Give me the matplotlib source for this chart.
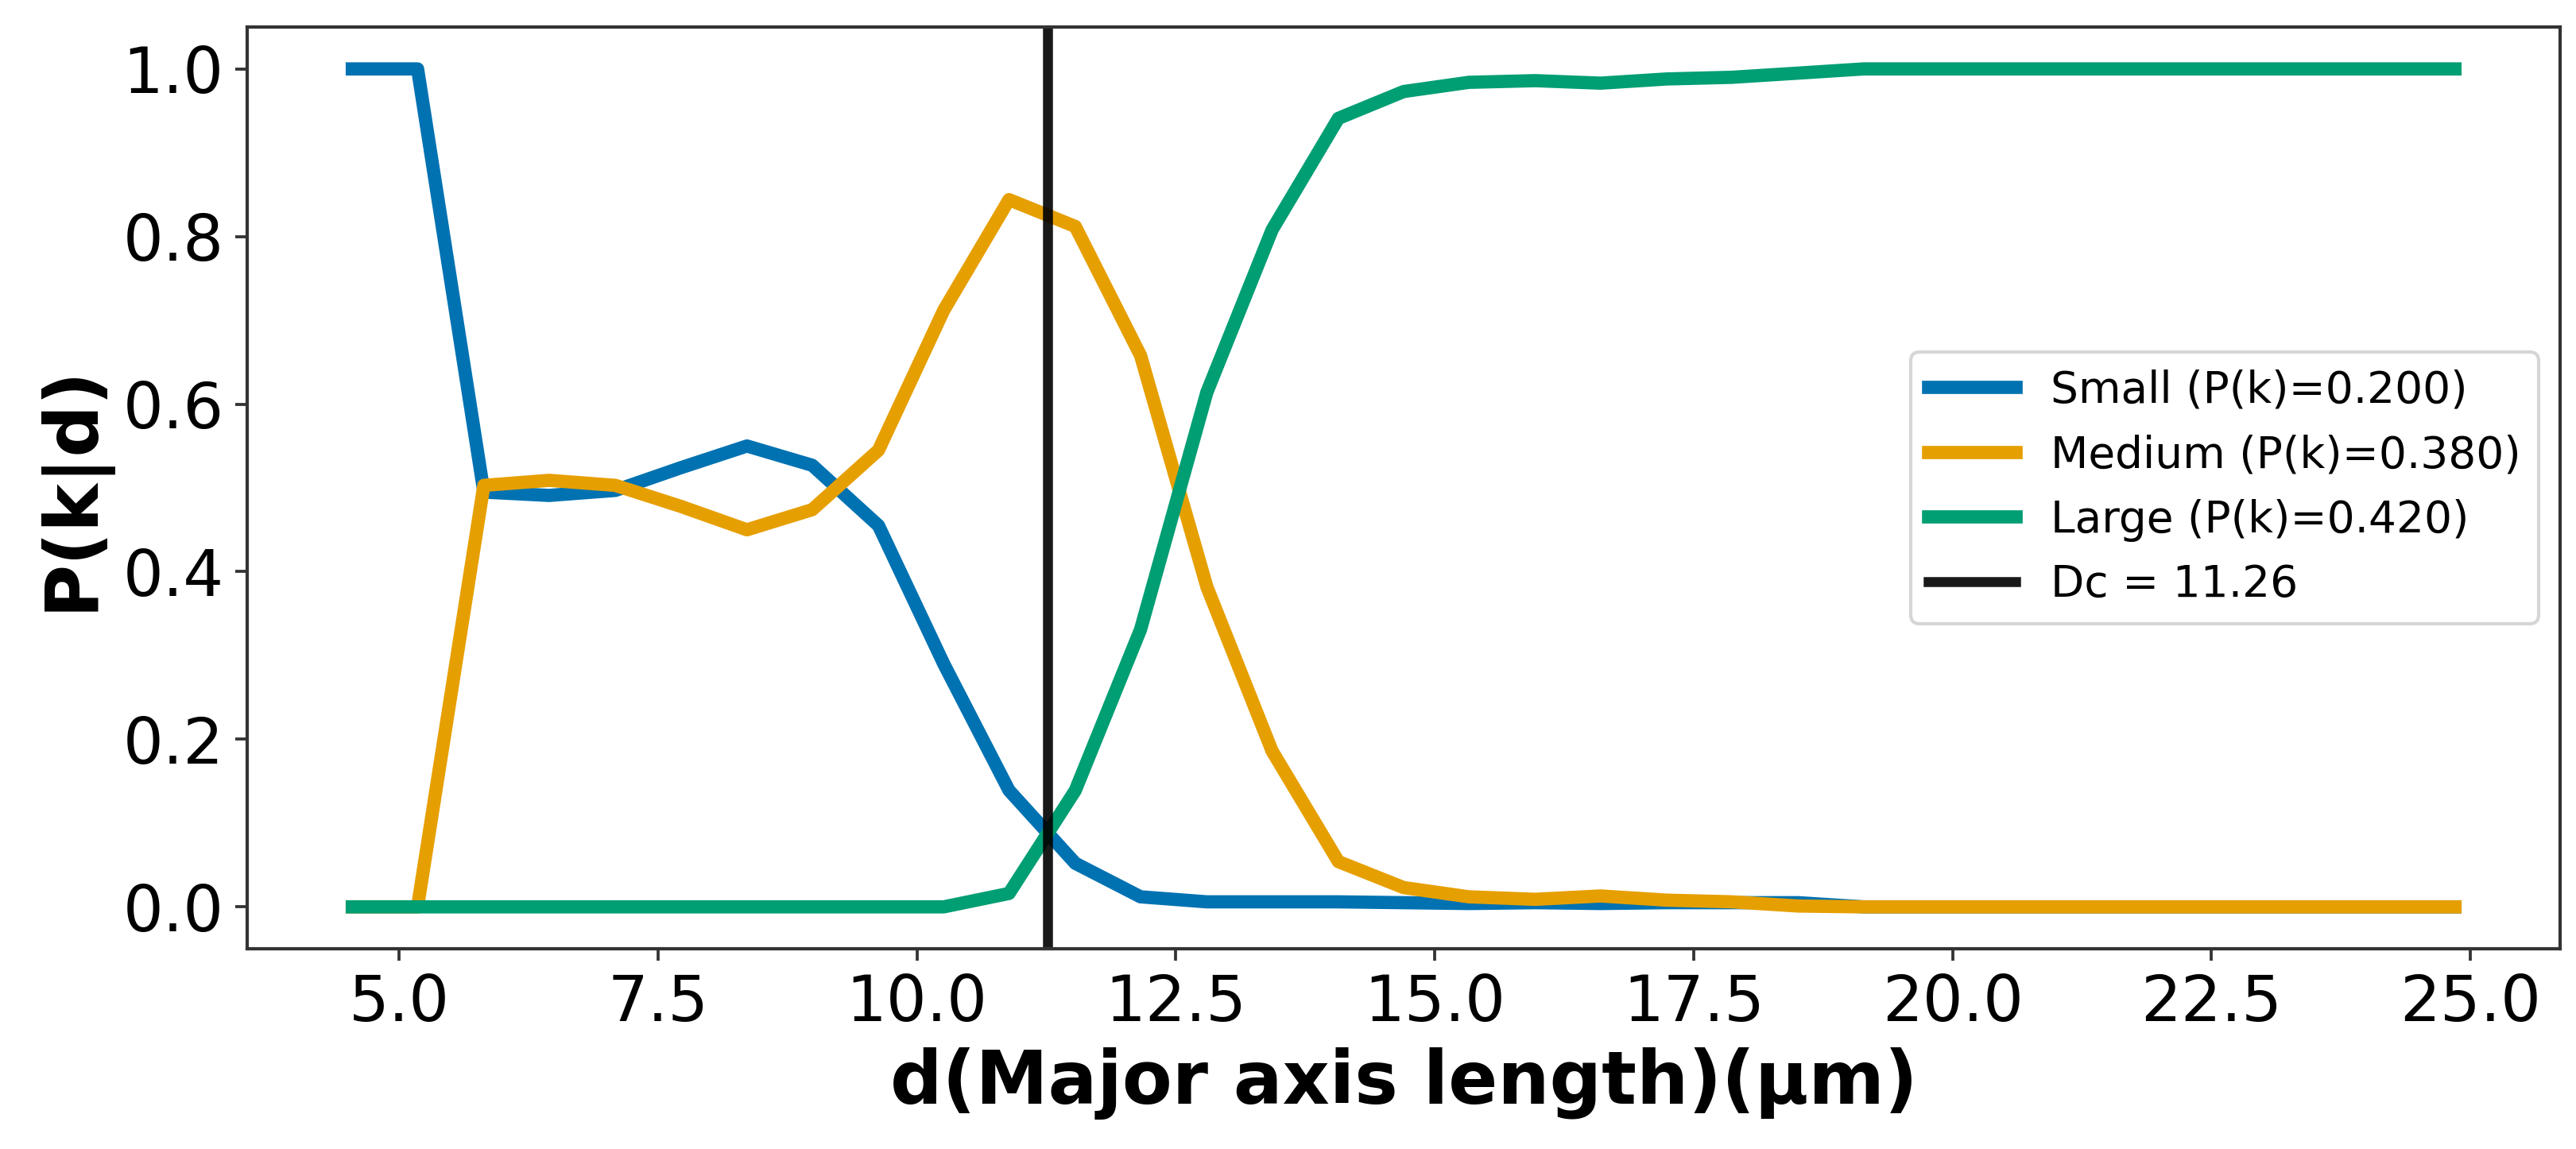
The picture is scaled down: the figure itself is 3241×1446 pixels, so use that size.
import matplotlib
matplotlib.use("Agg")
import matplotlib.pyplot as plt

# Bin centres of d (Major axis length, µm)
d_values = [4.55, 5.18, 5.82, 6.45, 7.09, 7.72, 8.36, 8.99, 9.63, 10.26, 10.89,
            11.53, 12.16, 12.80, 13.43, 14.07, 14.70, 15.33, 15.97, 16.60, 17.24,
            17.87, 18.51, 19.14, 19.78, 20.41, 21.04, 21.68, 22.31, 22.95, 23.58,
            24.22, 24.85]

p_small = [1.0, 1.0, 0.495, 0.491, 0.497, 0.524, 0.550, 0.527, 0.455, 0.290, 0.139,
           0.052, 0.012, 0.006, 0.006, 0.006, 0.005, 0.004, 0.005, 0.004, 0.005,
           0.005, 0.005, 0.0, 0.0, 0.0, 0.0, 0.0, 0.0, 0.0, 0.0, 0.0, 0.0]

p_medium = [0.0, 0.0, 0.503, 0.509, 0.503, 0.478, 0.450, 0.474, 0.545, 0.712, 0.844,
            0.812, 0.658, 0.382, 0.186, 0.054, 0.023, 0.012, 0.009, 0.013, 0.008,
            0.006, 0.001, 0.0, 0.0, 0.0, 0.0, 0.0, 0.0, 0.0, 0.0, 0.0, 0.0]

p_large = [0.0, 0.0, 0.0, 0.0, 0.0, 0.0, 0.0, 0.0, 0.0, 0.0, 0.016,
           0.139, 0.331, 0.614, 0.808, 0.941, 0.973, 0.984, 0.986, 0.983, 0.988,
           0.990, 0.995, 1.0, 1.0, 1.0, 1.0, 1.0, 1.0, 1.0, 1.0, 1.0, 1.0]

labels = ["Small (P(k)=0.200)", "Medium (P(k)=0.380)", "Large (P(k)=0.420)"]
colors = ["#0072B2", "#E69F00", "#009E73"]
dc = 11.26

W, H, DPI = 3241, 1446, 300
fig = plt.figure(figsize=(W / DPI, H / DPI), dpi=DPI)
left, right, top, bottom = 311, 3221, 34, 1194
ax = fig.add_axes([left / W, 1 - bottom / H, (right - left) / W, (bottom - top) / H])

for series, lab, col in zip([p_small, p_medium, p_large], labels, colors):
    ax.plot(d_values, series, color=col, lw=4, label=lab)
ax.axvline(dc, color="k", alpha=0.9, lw=3, label=f"Dc = {dc:.2f}")

ax.set_xticks([5.0, 7.5, 10.0, 12.5, 15.0, 17.5, 20.0, 22.5, 25.0])
ax.set_yticks([0.0, 0.2, 0.4, 0.6, 0.8, 1.0])
ax.tick_params(labelsize=19.2, length=3.6, width=0.9, color="#333333")
for s in ax.spines.values():
    s.set_color("#333333")
    s.set_linewidth(1.0)

ax.set_xlabel("d(Major axis length)(μm)", fontsize=22, fontweight="bold")
ax.set_ylabel("P(k|d)", fontsize=22, fontweight="bold")

ax.legend(loc="center right", fontsize=13.2)

fig.savefig("out.png", dpi=DPI)
